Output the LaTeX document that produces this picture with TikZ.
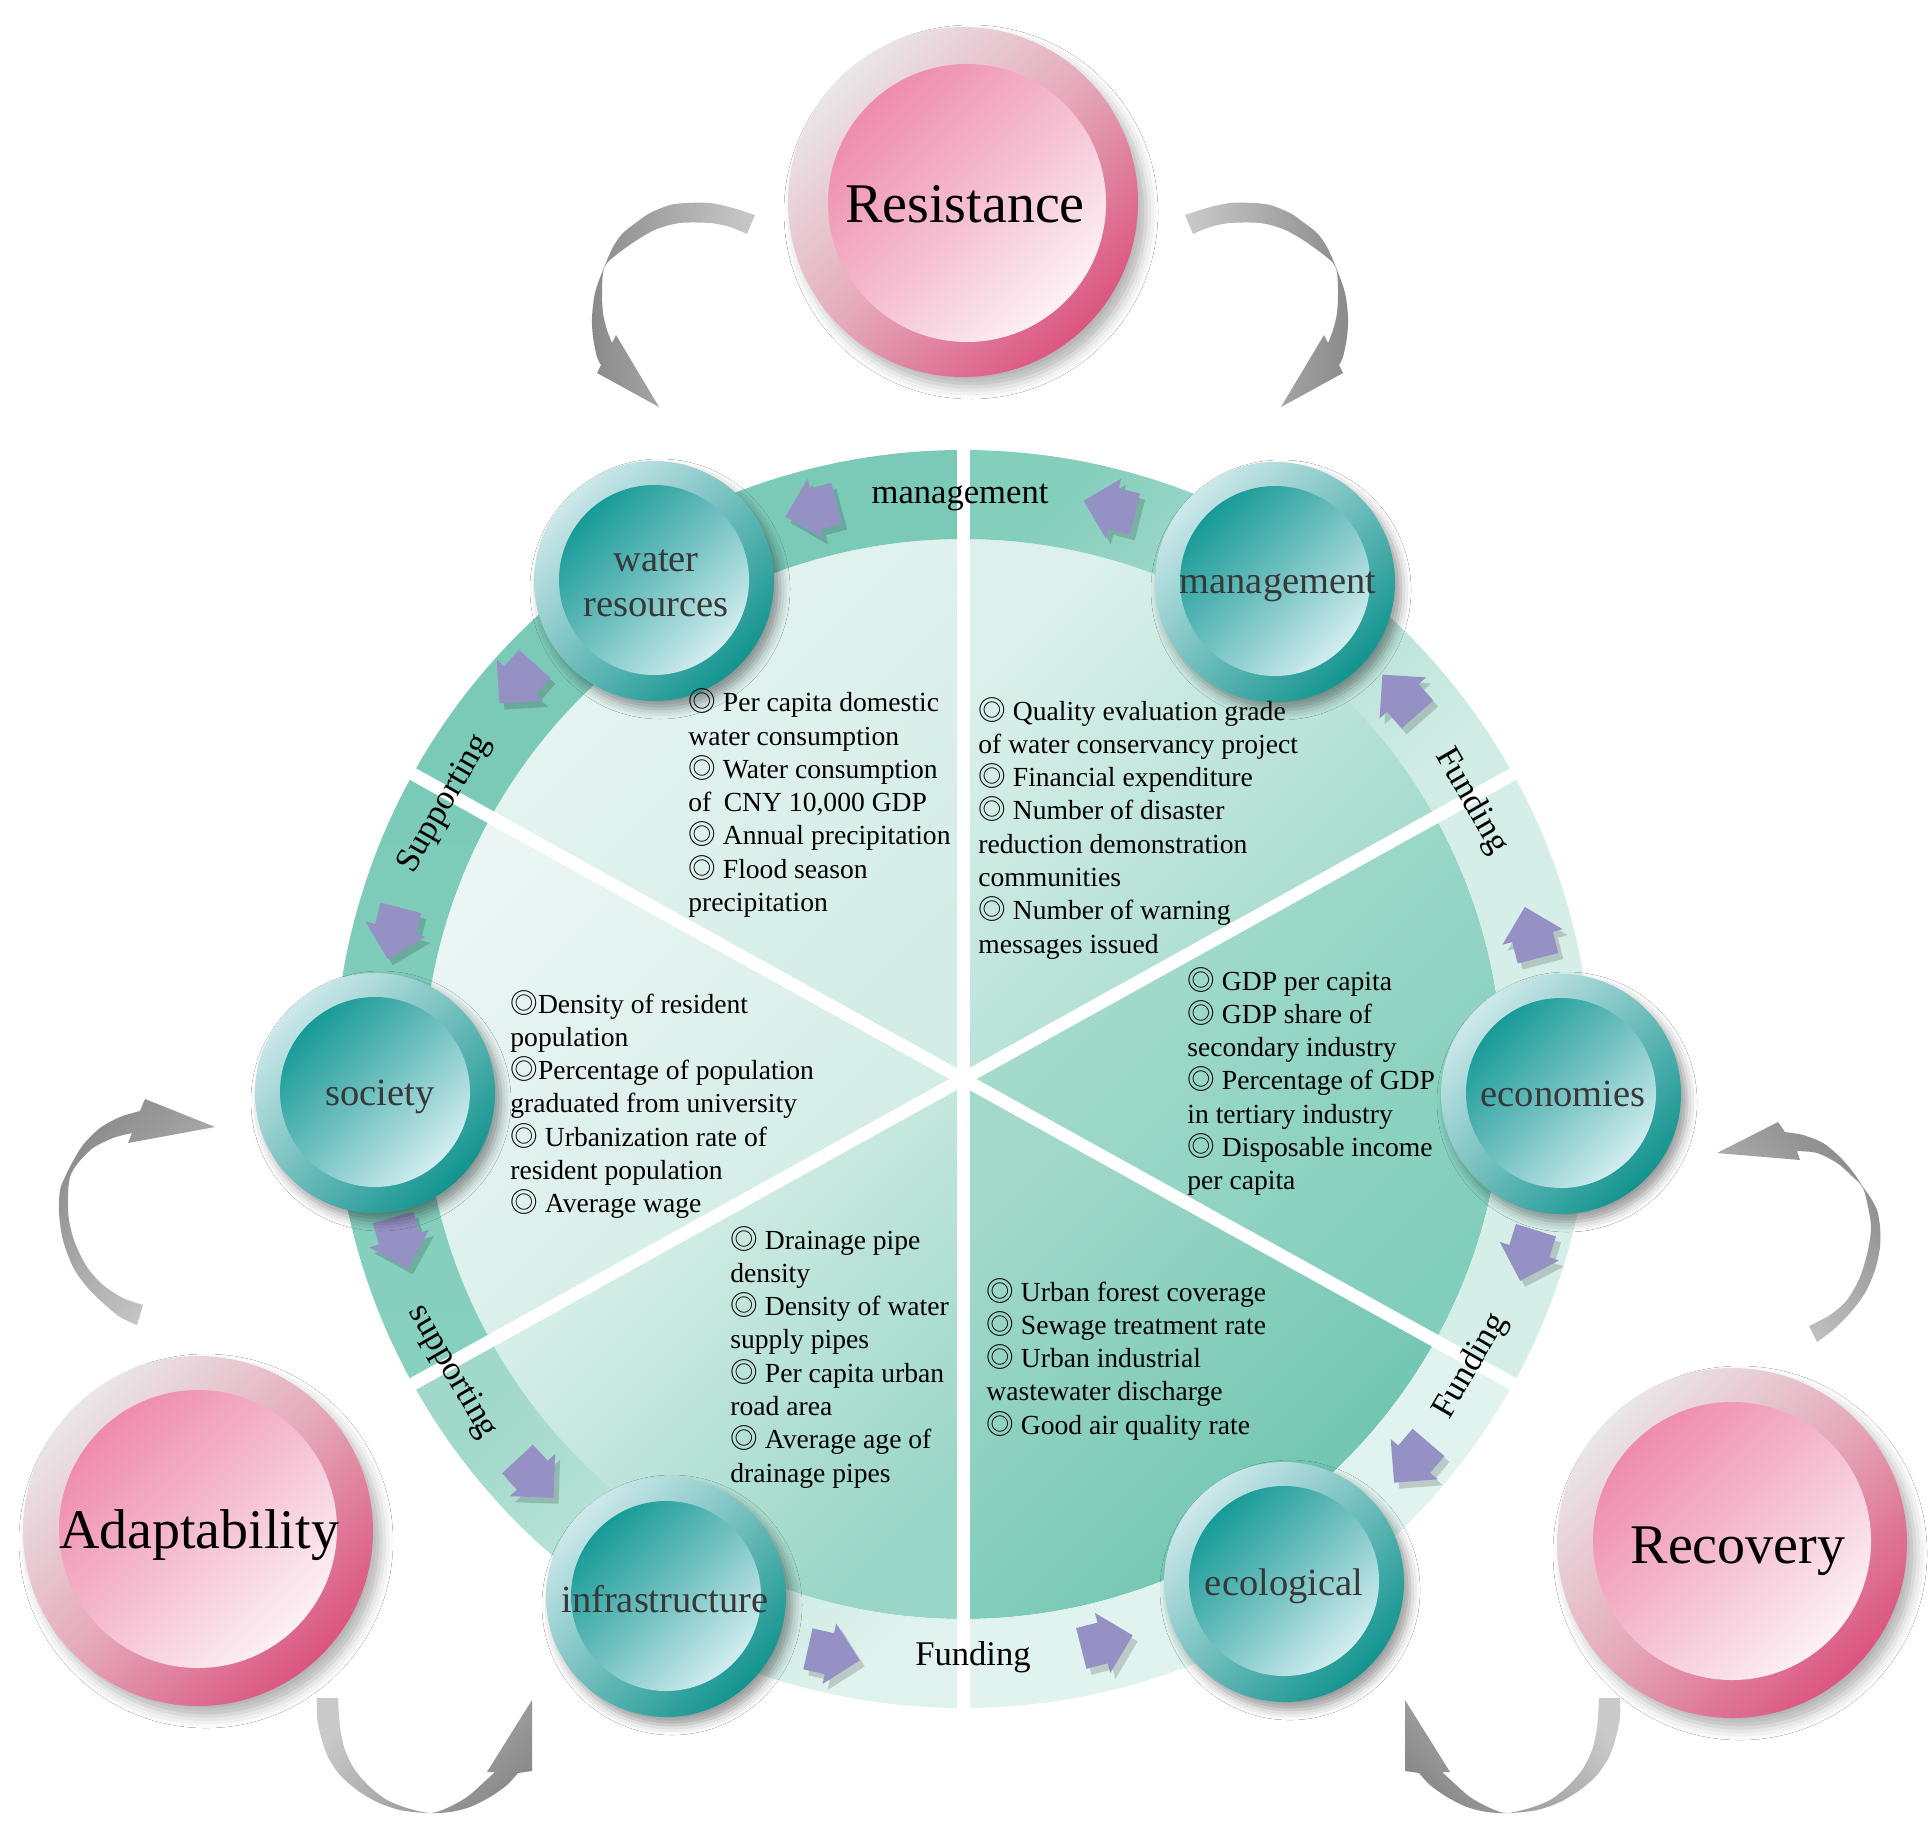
\documentclass[tikz,border=0pt]{standalone}
\usepackage{fontspec}
\setmainfont{Liberation Serif}
\newfontfamily\cjkf{Noto Sans CJK SC}
\usetikzlibrary{shadows.blur}
\newcommand\bsym{\smash{\cjkf ◎}}
\definecolor{ringA}{HTML}{7BCAB8}
\definecolor{ringAb}{HTML}{88D0BF}
\definecolor{parrowc}{HTML}{9691C4}
\definecolor{ntextc}{HTML}{383838}
\definecolor{tealA}{HTML}{CDE8EA}
\definecolor{tealB}{HTML}{13948F}
\definecolor{tealC}{HTML}{179B97}
\definecolor{tealM}{HTML}{72C1C1}
\definecolor{tealD}{HTML}{D2EDEF}
\definecolor{pinkA}{HTML}{EAE6E8}
\definecolor{pinkM}{HTML}{E5A9BA}
\definecolor{pinkB}{HTML}{DB5580}
\definecolor{pinkC}{HTML}{EF8BAD}
\definecolor{pinkN}{HTML}{F5BDD0}
\definecolor{pinkD}{HTML}{FCF1F5}
\definecolor{gdark}{HTML}{8A8A8A}
\definecolor{glight}{HTML}{CACACA}
\definecolor{s1a}{HTML}{E7F5F2}\definecolor{s1b}{HTML}{D3ECE6}
\definecolor{s2a}{HTML}{DDF1EC}\definecolor{s2b}{HTML}{9CD7C9}
\definecolor{s3a}{HTML}{AADDCF}\definecolor{s3b}{HTML}{82CEBC}
\definecolor{s4a}{HTML}{A3D9CB}\definecolor{s4b}{HTML}{6AC3AE}
\definecolor{s5a}{HTML}{E5F4F0}\definecolor{s5b}{HTML}{9AD6C7}
\definecolor{s6a}{HTML}{EBF6F4}\definecolor{s6b}{HTML}{D0EBE4}
\definecolor{r2a}{HTML}{84CEBC}\definecolor{r2b}{HTML}{D0ECE5}
\definecolor{r3}{HTML}{D5EEE7}
\definecolor{r4}{HTML}{E1F3EE}
\definecolor{r5a}{HTML}{A0D8CA}\definecolor{r5b}{HTML}{E0F2ED}
\newcommand\parw[3]{%
 \begin{scope}[shift={(968,1085)},shift={(#1:#2)},rotate=#3]
  \fill[pshadow] (-26,-21) -- (-4,-21) -- (-4,-31) -- (27,0) -- (-4,31) -- (-4,21) -- (-26,21) -- cycle;
 \end{scope}
 \begin{scope}[shift={(963,1079)},shift={(#1:#2)},rotate=#3]
  \fill[parrow] (-26,-21) -- (-4,-21) -- (-4,-31) -- (27,0) -- (-4,31) -- (-4,21) -- (-26,21) -- cycle;
 \end{scope}}
\begin{document}
\begin{tikzpicture}[x=0.5pt,y=-0.5pt,
  sect/.style={font=\fontsize{13.8}{16}\selectfont, text=black, inner sep=0pt, anchor=base west},
  rlab/.style={font=\fontsize{17.3}{20}\selectfont, text=black, inner sep=0pt},
  ntext/.style={font=\fontsize{19.25}{22}\selectfont, text=ntextc, inner sep=0pt, anchor=base},
  btext/.style={font=\fontsize{28}{32}\selectfont, text=black, inner sep=0pt, anchor=base},
  parrow/.style={fill=parrowc},
  pshadow/.style={fill=black, opacity=0.16},
  tealout/.style={circle, minimum size=120pt, inner sep=0pt, outer sep=0pt,
    top color=tealA, bottom color=tealB, shading angle=45,
    blur shadow={shadow xshift=3pt, shadow yshift=-4pt, shadow blur radius=5pt, shadow opacity=40}},
  tealin/.style={circle, minimum size=95pt, inner sep=0pt, outer sep=0pt,
    top color=tealC, bottom color=tealD, middle color=tealM, shading angle=45},
  pinkout/.style={circle, minimum size=175pt, inner sep=0pt, outer sep=0pt,
    top color=pinkA, bottom color=pinkB, middle color=pinkM, shading angle=45,
    blur shadow={shadow xshift=4pt, shadow yshift=-5pt, shadow blur radius=6pt, shadow opacity=30}},
  pinkin/.style={circle, minimum size=139pt, inner sep=0pt, outer sep=0pt,
    top color=pinkC, bottom color=pinkD, middle color=pinkN, shading angle=45},
]
\useasboundingbox (0,0) rectangle (1931,1840);
\fill[white] (0,0) rectangle (1931,1840);

% ---------------- pie and ring ----------------
\begin{scope}[shift={(963,1079)}]
 \shade[top color=s1a,bottom color=s1b,shading angle=45] (0,0) -- (-151:540) arc[start angle=-151,end angle=-90,radius=540] -- cycle;
 \shade[top color=s2a,bottom color=s2b,shading angle=45] (0,0) -- (-90:540) arc[start angle=-90,end angle=-29,radius=540] -- cycle;
 \shade[top color=s3a,bottom color=s3b,shading angle=45] (0,0) -- (-29:540) arc[start angle=-29,end angle=29,radius=540] -- cycle;
 \shade[top color=s4a,bottom color=s4b,shading angle=45] (0,0) -- (29:540) arc[start angle=29,end angle=90,radius=540] -- cycle;
 \shade[top color=s5a,bottom color=s5b,shading angle=45] (0,0) -- (90:540) arc[start angle=90,end angle=151,radius=540] -- cycle;
 \shade[top color=s6a,bottom color=s6b,shading angle=45] (0,0) -- (151:540) arc[start angle=151,end angle=209,radius=540] -- cycle;
 \fill[ringA] (-151:629) arc[start angle=-151,end angle=-90,radius=629] -- (-90:540) arc[start angle=-90,end angle=-151,radius=540] -- cycle;
 \shade[top color=r2a,bottom color=r2b,shading angle=45] (-90:629) arc[start angle=-90,end angle=-29,radius=629] -- (-29:540) arc[start angle=-29,end angle=-90,radius=540] -- cycle;
 \fill[r3] (-29:629) arc[start angle=-29,end angle=29,radius=629] -- (29:540) arc[start angle=29,end angle=-29,radius=540] -- cycle;
 \fill[r4] (29:629) arc[start angle=29,end angle=90,radius=629] -- (90:540) arc[start angle=90,end angle=29,radius=540] -- cycle;
 \shade[top color=r5a,bottom color=r5b,shading angle=45] (90:629) arc[start angle=90,end angle=151,radius=629] -- (151:540) arc[start angle=151,end angle=90,radius=540] -- cycle;
 \shade[top color=ringA,bottom color=ringAb] (151:629) arc[start angle=151,end angle=209,radius=629] -- (209:540) arc[start angle=209,end angle=151,radius=540] -- cycle;
 \foreach \a in {-90,-29,29,90,151,209} \draw[white,line width=6.5pt] (0,0) -- (\a:650);
\end{scope}

% ---------------- ring labels ----------------
\node[rlab,anchor=base] (lmanag) at (960,503) {management};
\node[rlab,rotate=-60] (lfund1) at (1471,801) {Funding};
\node[rlab,rotate=60] (lfund2) at (1471,1366) {Funding};
\node[rlab,anchor=base] (lfund3) at (973,1665) {Funding};
\node[rlab,rotate=-60] (lsupp1) at (452,1372) {supporting};
\node[rlab,rotate=60] (lsupp2) at (445,804) {Supporting};

% ---------------- purple arrows ----------------
\parw{255.1}{589}{194.9}
\parw{284.4}{590}{165.6}
\parw{318.7}{582}{131.3}
\parw{345.6}{587}{104.4}
\parw{17.3}{592}{-107.3}
\parw{40.5}{590}{-130.5}
\parw{102.7}{590}{347.3}
\parw{75.7}{581}{14.3}
\parw{137}{585}{313}
\parw{163.8}{586}{286.2}
\parw{194.4}{587}{255.6}
\parw{221.6}{596}{228.4}

% ---------------- teal nodes ----------------
\node[tealout] (wrO) at (654,581) {};
\node[tealin] (wrI) at (654,580) {};
\node[ntext] (wrT1) at (656,571.7) {water};
\node[ntext] (wrT2) at (656,616.7) {resources};
\node[tealout] (mgO) at (1275,582) {};
\node[tealin] (mgI) at (1275,581) {};
\node[ntext] (mgT) at (1278,593) {management};
\node[tealout] (soO) at (375,1093) {};
\node[tealin] (soI) at (375,1092) {};
\node[ntext] (soT) at (380,1105) {society};
\node[tealout] (ecO) at (1561,1094) {};
\node[tealin] (ecI) at (1561,1093) {};
\node[ntext] (ecT) at (1563,1106) {economies};
\node[tealout] (inO) at (666,1597) {};
\node[tealin] (inI) at (666,1596) {};
\node[ntext] (inT) at (665,1612) {infrastructure};
\node[tealout] (elO) at (1284,1582) {};
\node[tealin] (elI) at (1284,1581) {};
\node[ntext] (elT) at (1284,1595) {ecological};

% ---------------- sector texts ----------------
\foreach \tx [count=\i from 0] in {{\bsym\ Per capita domestic},{water consumption},{\bsym\ Water consumption},{of\hspace{0.45em}CNY 10,000 GDP},{\bsym\ Annual precipitation},{\bsym\ Flood season},{precipitation}}
  \node[sect] (tl\i) at (688,{711.7+33.3*\i}) {\tx};
\foreach \tx [count=\i from 0] in {{\bsym\ Quality evaluation grade},{of water conservancy project},{\bsym\ Financial expenditure},{\bsym\ Number of disaster},{reduction demonstration},{communities},{\bsym\ Number of warning},{messages issued}}
  \node[sect] (tr\i) at (978,{720+33.3*\i}) {\tx};
\foreach \tx [count=\i from 0] in {{\bsym\ GDP per capita},{\bsym\ GDP share of},{secondary industry},{\bsym\ Percentage of GDP},{in tertiary industry},{\bsym\ Disposable income},{per capita}}
  \node[sect] (rr\i) at (1187,{990+33.3*\i}) {\tx};
\foreach \tx [count=\i from 0] in {{\bsym Density of resident},{population},{\bsym Percentage of population},{graduated from university},{\bsym\ Urbanization rate of},{resident population},{\bsym\ Average wage}}
  \node[sect] (ll\i) at (510,{1013+33.3*\i}) {\tx};
\foreach \tx [count=\i from 0] in {{\bsym\ Drainage pipe},{density},{\bsym\ Density of water},{supply pipes},{\bsym\ Per capita urban},{road area},{\bsym\ Average age of},{drainage pipes}}
  \node[sect] (bl\i) at (730,{1249+33.3*\i}) {\tx};
\foreach \tx [count=\i from 0] in {{\bsym\ Urban forest coverage},{\bsym\ Sewage treatment rate},{\bsym\ Urban industrial},{wastewater discharge},{\bsym\ Good air quality rate}}
  \node[sect] (br\i) at (986,{1301+33.3*\i}) {\tx};

% ---------------- pink nodes ----------------
\node[pinkout] (resO) at (963,202) {};
\node[pinkin] (resI) at (967,203) {};
\node[btext] (resT) at (965,223) {Resistance};
\node[pinkout] (adaO) at (198,1531) {};
\node[pinkin] (adaI) at (198,1529) {};
\node[btext] (adaT) at (199,1548) {Adaptability};
\node[pinkout] (recO) at (1732,1543) {};
\node[pinkin] (recI) at (1732,1541) {};
\node[btext] (recT) at (1738,1563) {Recovery};

% ---------------- gray curved arrows ----------------
% top-left
\shade[left color=gdark,right color=glight] plot[smooth] coordinates {(755,215) (733,208) (710,203) (687,203) (670,205) (650,213) (637,222) (623,233) (613,247) (603,270) (595,293) (592,317) (593,337) (597,357) (601,365)} -- (597,373) -- (659,407) -- (616,335) --plot[smooth] coordinates {(612,343) (607,330) (603,313) (602,293) (603,273) (607,263) (620,252) (637,240) (657,229) (680,223) (710,223) (730,227) (747,234)} -- cycle;
% top-right
\shade[left color=glight,right color=gdark] plot[smooth] coordinates {(1185,215) (1207,208) (1230,203) (1253,203) (1270,205) (1290,213) (1303,222) (1317,233) (1327,247) (1337,270) (1345,293) (1348,317) (1347,337) (1343,357) (1339,365)} -- (1343,373) -- (1281,407) -- (1324,335) --plot[smooth] coordinates {(1328,343) (1333,330) (1337,313) (1338,293) (1337,273) (1333,263) (1320,252) (1303,240) (1283,229) (1260,223) (1230,223) (1210,227) (1193,234)} -- cycle;
% left
\shade[top color=gdark,bottom color=glight,shading angle=45] plot[smooth] coordinates {(137,1325) (120,1317) (103,1303) (87,1287) (73,1267) (63,1240) (59,1213) (60,1190) (65,1177) (72,1163) (83,1145) (100,1128) (120,1117) (140,1111)} -- (145,1099) -- (215,1127) -- (128,1143) --plot[smooth] coordinates {(132,1133) (113,1138) (93,1148) (78,1163) (70,1177) (68,1197) (69,1220) (75,1243) (87,1267) (103,1285) (123,1298) (143,1305)} -- cycle;
% right
\shade[top color=gdark,bottom color=glight,shading angle=-45] plot[smooth] coordinates {(1817,1342) (1833,1330) (1850,1313) (1865,1293) (1875,1270) (1880,1247) (1880,1227) (1877,1210) (1870,1197) (1863,1187) (1853,1172) (1840,1157) (1823,1143) (1803,1135) (1785,1132)} -- (1778,1122) -- (1717,1153) -- (1800,1160) --plot[smooth] coordinates {(1797,1151) (1817,1153) (1837,1163) (1853,1177) (1863,1188) (1868,1207) (1871,1227) (1868,1250) (1860,1277) (1847,1300) (1830,1315) (1809,1326)} -- cycle;
% bottom-left
\shade[top color=glight,bottom color=gdark,shading angle=45] plot[smooth] coordinates {(317,1698) (317,1717) (321,1737) (328,1757) (340,1775) (357,1790) (377,1802) (400,1810) (427,1813) (450,1812) (470,1807) (490,1797) (507,1785) (518,1773)} -- (532,1771) -- (532,1700) -- (487,1772) --plot[smooth] coordinates {(495,1772) (483,1783) (467,1797) (447,1808) (430,1813) (407,1808) (387,1800) (370,1787) (355,1770) (345,1750) (340,1727) (338,1698)} -- cycle;
% bottom-right
\shade[top color=glight,bottom color=gdark,shading angle=-45] plot[smooth] coordinates {(1620,1698) (1620,1717) (1616,1737) (1609,1757) (1597,1775) (1580,1790) (1560,1802) (1537,1810) (1510,1813) (1487,1812) (1467,1807) (1447,1797) (1430,1785) (1419,1773)} -- (1405,1771) -- (1405,1700) -- (1450,1772) --plot[smooth] coordinates {(1442,1772) (1454,1783) (1470,1797) (1490,1808) (1507,1813) (1530,1808) (1550,1800) (1567,1787) (1582,1770) (1592,1750) (1597,1727) (1599,1698)} -- cycle;
\end{tikzpicture}
\end{document}
